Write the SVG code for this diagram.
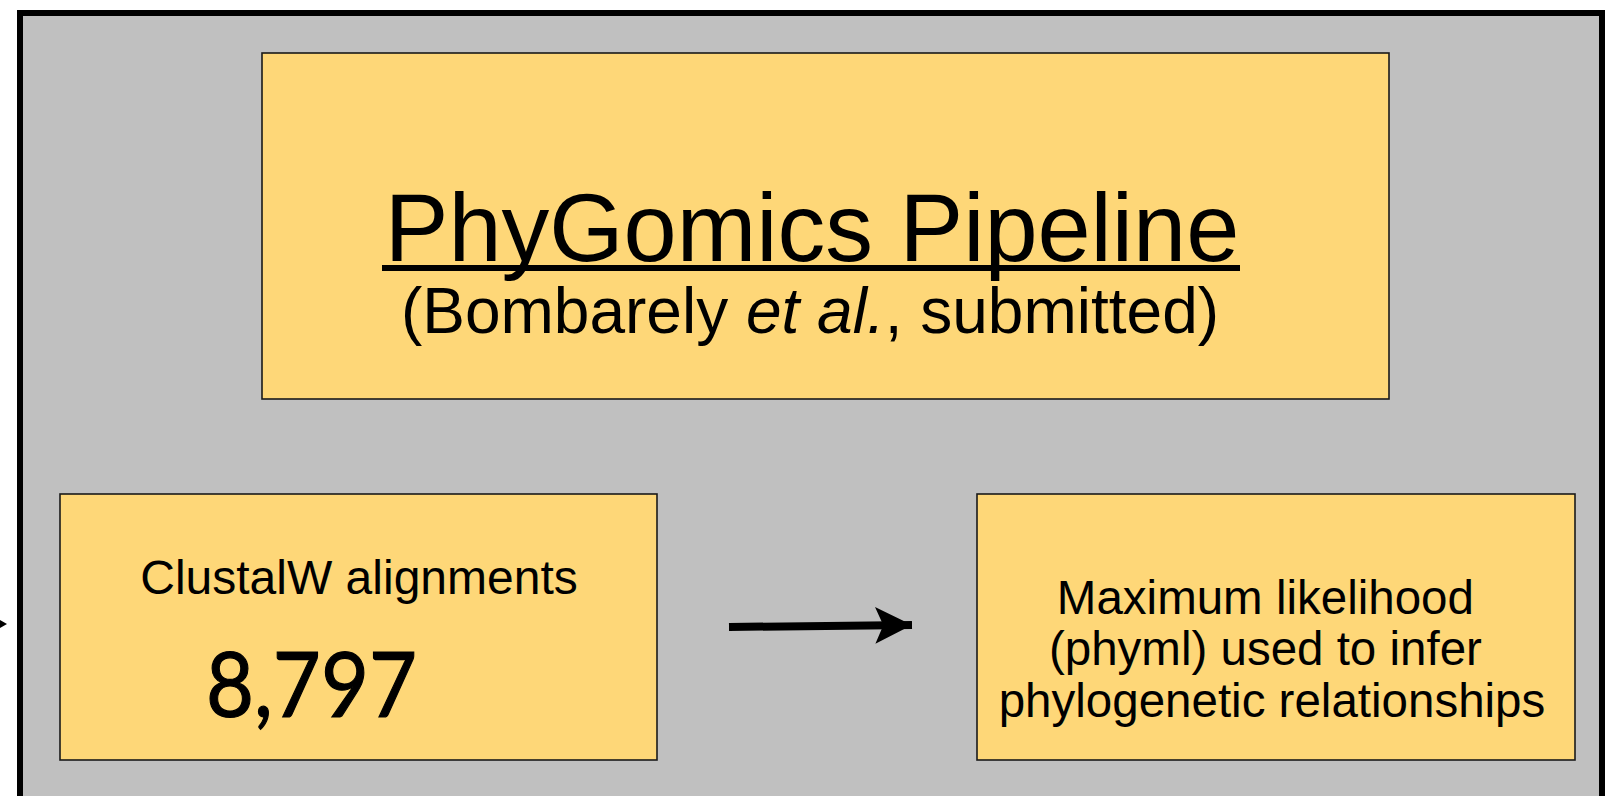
<svg xmlns="http://www.w3.org/2000/svg" width="1613" height="796" viewBox="0 0 1613 796">
  <style>
    .box { fill: #fed778; stroke: #1a1a1a; stroke-width: 1.6; }
    .sans { font-family: "Liberation Sans", Arial, sans-serif; fill: #000; }
    .num { font-family: Lato, "Noto Sans", sans-serif; fill: #000; stroke: #000; stroke-width: 1.2; }
  </style>
  <defs>
    <marker id="head" viewBox="0 0 10 10" refX="10" refY="5" markerWidth="4.6" markerHeight="4.6" markerUnits="strokeWidth" orient="auto">
      <path d="M0,0 L10,5 L0,10 L2.2,5 Z" fill="#000"/>
    </marker>
  </defs>

  <rect x="0" y="0" width="1613" height="796" fill="#fff"/>

  <!-- panel background -->
  <rect id="panel" x="20" y="13" width="1582" height="800" fill="#c0c0c0" stroke="#000" stroke-width="6"/>

  <g id="title">
    <rect class="box" x="262" y="53" width="1127" height="346"/>
    <text class="sans" x="812" y="261" font-size="95.5" text-anchor="middle">PhyGomics Pipeline</text>
    <rect x="382" y="265" width="858" height="6" fill="#000"/>
    <text class="sans" x="810" y="333" font-size="64" text-anchor="middle">(Bombarely <tspan font-style="italic">et al.</tspan>, submitted)</text>
  </g>

  <g id="alignments">
    <rect class="box" x="60" y="494" width="597" height="266"/>
    <text class="sans" x="359" y="594" font-size="48" text-anchor="middle">ClustalW alignments</text>
    <text class="num" x="206" y="717" font-size="92" textLength="211" lengthAdjust="spacingAndGlyphs">8,797</text>
  </g>

  <g id="phyml">
    <rect class="box" x="977" y="494" width="598" height="266"/>
    <text class="sans" font-size="47.5" text-anchor="middle">
      <tspan x="1272" y="614">Maximum likelihood</tspan>
      <tspan x="1272" y="665">(phyml) used to infer</tspan>
      <tspan x="1272" y="717">phylogenetic relationships</tspan>
    </text>
  </g>

  <g id="connectors">
    <line x1="729" y1="627" x2="912" y2="625" stroke="#000" stroke-width="8" marker-end="url(#head)"/>
    <path d="M0,620 L7,624 L0,628 Z" fill="#000"/>
  </g>
</svg>
